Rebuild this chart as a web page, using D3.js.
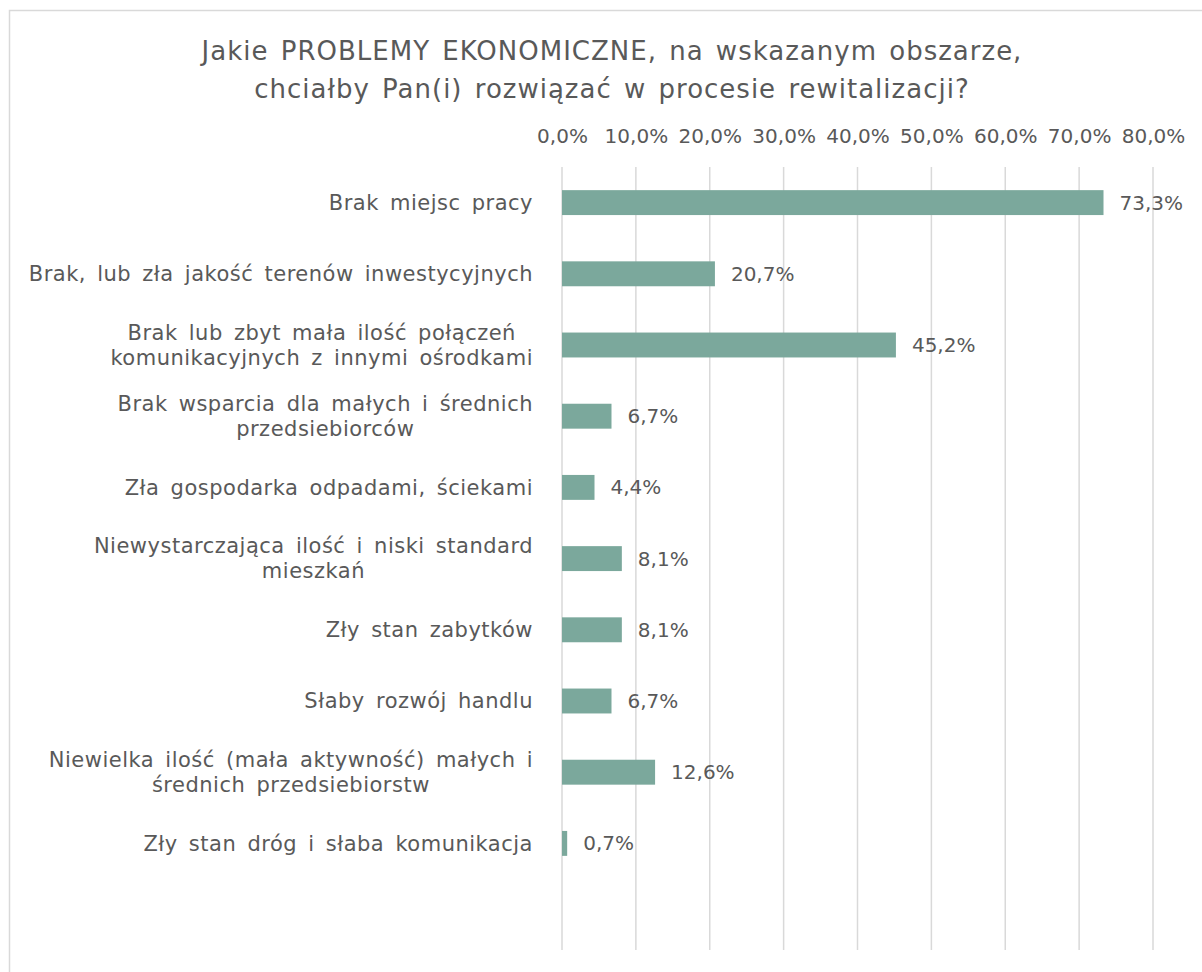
<!DOCTYPE html>
<html>
<head>
<meta charset="utf-8">
<script src="https://cdn.jsdelivr.net/npm/d3@7"></script>
<style>
  html, body { margin: 0; padding: 0; background: #ffffff; }
  svg { display: block; }
  text { font-family: "DejaVu Sans", sans-serif; fill: #595959; }
</style>
</head>
<body>
<svg id="chart" width="1202" height="972"></svg>
<script>
// Survey answers: economic problems to address in the revitalisation process
const titleLines = [
  "Jakie PROBLEMY EKONOMICZNE, na wskazanym obszarze,",
  "chciałby Pan(i) rozwiązać w procesie rewitalizacji?"
];
const categories = [
  ["Brak miejsc pracy"],
  ["Brak, lub zła jakość terenów inwestycyjnych"],
  ["Brak lub zbyt mała ilość połączeń", "komunikacyjnych z innymi ośrodkami"],
  ["Brak wsparcia dla małych i średnich", "przedsiebiorców"],
  ["Zła gospodarka odpadami, ściekami"],
  ["Niewystarczająca ilość i niski standard", "mieszkań"],
  ["Zły stan zabytków"],
  ["Słaby rozwój handlu"],
  ["Niewielka ilość (mała aktywność) małych i", "średnich przedsiebiorstw"],
  ["Zły stan dróg i słaba komunikacja"]
];
const values = [73.3, 20.7, 45.2, 6.7, 4.4, 8.1, 8.1, 6.7, 12.6, 0.7];
const tickValues = [0, 10, 20, 30, 40, 50, 60, 70, 80];

const fmt = v => v.toFixed(1).replace(".", ",") + "%";

const svg = d3.select("#chart");

// outer chart frame
svg.append("rect")
  .attr("x", 9.5).attr("y", 10.5)
  .attr("width", 1200).attr("height", 970)
  .attr("fill", "#ffffff")
  .attr("stroke", "#d9d9d9").attr("stroke-width", 1.5);

// title
const title = svg.append("text")
  .attr("text-anchor", "middle")
  .attr("font-size", 26)
  .attr("letter-spacing", 1)
  .attr("word-spacing", 3);
titleLines.forEach((line, i) => {
  title.append("tspan")
    .attr("x", 612)
    .attr("y", 60 + i * 38)
    .text(line);
});

const plot = { left: 562, right: 1153, top: 167, bottom: 950 };

const x = d3.scaleLinear().domain([0, 80]).range([plot.left, plot.right]);
const y = d3.scaleBand()
  .domain(d3.range(categories.length))
  .range([plot.top, plot.top + categories.length * 71.2])
  .paddingInner(0.65)
  .paddingOuter(0.325);

// vertical gridlines
svg.append("g")
  .selectAll("line")
  .data(tickValues)
  .join("line")
  .attr("x1", d => x(d)).attr("x2", d => x(d))
  .attr("y1", plot.top).attr("y2", plot.bottom)
  .attr("stroke", "#d9d9d9").attr("stroke-width", 1.5);

// top axis labels
const axis = svg.append("g")
  .attr("transform", `translate(0,${plot.top - 10})`)
  .call(d3.axisTop(x).tickValues(tickValues).tickFormat(fmt).tickSize(0).tickPadding(14));
axis.select(".domain").remove();
axis.selectAll("text")
  .attr("font-size", 20)
  .attr("font-family", "DejaVu Sans, sans-serif")
  .attr("fill", "#595959");

// bars
svg.append("g")
  .selectAll("rect")
  .data(values)
  .join("rect")
  .attr("x", x(0))
  .attr("y", (d, i) => y(i))
  .attr("width", d => x(d) - x(0))
  .attr("height", y.bandwidth())
  .attr("fill", "#7ba89c");

// value labels
svg.append("g")
  .selectAll("text")
  .data(values)
  .join("text")
  .attr("x", d => x(d) + 16)
  .attr("y", (d, i) => y(i) + y.bandwidth() / 2)
  .attr("dy", "0.35em")
  .attr("font-size", 20)
  .text(fmt);

// category labels (wrapped lines centred within their block, block right-aligned)
const labelRight = 533;
const lineH = 25;
const catG = svg.append("g");
categories.forEach((lines, i) => {
  const cy = y(i) + y.bandwidth() / 2;
  const t = catG.append("text")
    .attr("font-size", 21)
    .attr("letter-spacing", 0.5)
    .attr("word-spacing", 4)
    .attr("text-anchor", "middle");
  const spans = lines.map((l, j) =>
    t.append("tspan")
      .attr("y", cy + (j - (lines.length - 1) / 2) * lineH)
      .attr("dy", "0.35em")
      .text(l));
  const widths = spans.map(s => s.node().getComputedTextLength());
  const maxW = d3.max(widths);
  spans.forEach(s => s.attr("x", labelRight - maxW / 2));
});
</script>
</body>
</html>
